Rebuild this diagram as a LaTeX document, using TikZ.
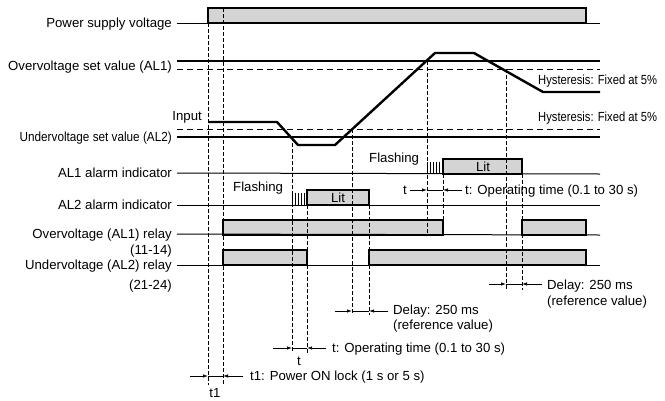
\documentclass[tikz,border=0pt]{standalone}
\usepackage{fontspec}
\setmainfont{Liberation Sans}
\usetikzlibrary{arrows.meta}
\definecolor{boxgray}{RGB}{212,212,212}
\begin{document}
\begin{tikzpicture}[x=1pt,y=-1pt,
  every node/.style={font=\fontsize{13.2}{15}\selectfont, inner sep=0pt, text height=9.4pt, text depth=0pt},
  lab/.style={anchor=east},
  txt/.style={anchor=west},
  base/.style={line width=1pt},
  setline/.style={line width=2.4pt},
  hyst/.style={line width=1pt, dash pattern=on 6pt off 4pt},
  guide/.style={line width=0.7pt, dash pattern=on 3.5pt off 2.5pt},
  sig/.style={draw, line width=1.4pt, fill=boxgray},
  inp/.style={line width=2.4pt, line join=miter},
  dim/.style={line width=0.7pt},
  tip/.style={-{Latex[length=5pt,width=3.4pt]}},
  tick/.style={line width=0.7pt},
]
\useasboundingbox (0,0) rectangle (665,400);

% ---- labels ----
\node[lab] (lpsv) at (172,23) {Power supply voltage};
\node[lab] (lov)  at (172,66) {Overvoltage set value (AL1)};
\node[lab] (linp) at (202,116) {Input};
\node[lab] (luv)  at (172,137) {\scalebox{0.89}[1]{Undervoltage set value (AL2)}};
\node[lab] (la1)  at (172,173) {AL1 alarm indicator};
\node[lab] (la2)  at (172,205) {AL2 alarm indicator};
\node[lab] (lor)  at (172,234) {Overvoltage (AL1) relay};
\node[lab] (lor2) at (172,250) {(11-14)};
\node[lab] (lur)  at (172,265) {Undervoltage (AL2) relay};
\node[lab] (lur2) at (172,285) {(21-24)};

% ---- signal boxes ----
\path[sig] (208,8) rectangle (586,23);
\path[sig] (307,190) rectangle (369,205);
\path[sig] (443,159) rectangle (522,174);
\path[sig] (223,220) rectangle (443,235);
\path[sig] (522,220) rectangle (586,235);
\path[sig] (223,250) rectangle (307,265);
\path[sig] (369,250) rectangle (586,265);

\node (lit2) at (338,198) {Lit};
\node (lit1) at (483,167) {Lit};

% ---- base lines ----
\draw[base] (lpsv.east) ++(5,0) -- (600,23);
\draw[base] (la1.east) ++(5,0) -- (600,174);
\draw[base] (la2.east) ++(5,0) -- (600,205);
\draw[base] (lor.east) ++(5,0) -- (600,235);
\draw[base] (lur.east) ++(5,0) -- (600,265);

% ---- set values ----
\draw[setline] (177,61) -- (600,61);
\draw[hyst] (177,69) -- (600,69);
\draw[hyst] (177,129) -- (600,129);
\draw[setline] (177,137) -- (600,137);

\node[txt] (hy1) at (538,80) {\scalebox{0.85}[1]{Hysteresis: Fixed at 5\%}};
\node[txt] (hy2) at (538,117) {\scalebox{0.85}[1]{Hysteresis: Fixed at 5\%}};

% ---- input ----
\draw[inp] (208,122) -- (277,122) -- (298,145) -- (335,145) -- (435,53) -- (474,53) -- (543,92) -- (600,92);

% ---- flashing ticks ----
\foreach \x in {292,295,298,301,304} \draw[tick] (\x,193) -- (\x,205);
\foreach \x in {427,430,433,436,439} \draw[tick] (\x,162) -- (\x,174);
\node[txt] (fl2) at (233,187) {Flashing};
\node[txt] (fl1) at (369,158) {Flashing};

% ---- guide lines ----
\draw[guide] (208,23) -- (208,385);
\draw[guide] (223,8) -- (223,385);
\draw[guide] (292,137) -- (292,353);
\draw[guide] (307,205) -- (307,353);
\draw[guide] (352,129) -- (352,315);
\draw[guide] (369,205) -- (369,315);
\draw[guide] (427,61) -- (427,235);
\draw[guide] (443,174) -- (443,235);
\draw[guide] (506,69) -- (506,290);
\draw[guide] (522,174) -- (522,290);

% ---- dimension arrows ----
% t1
\coordinate (a1) at (190,376); \coordinate (a1l) at (208,376);
\coordinate (a1r) at (223,376); \coordinate (a1e) at (243,376);
\draw[dim,tip] (a1) -- (a1l);
\draw[dim] (a1l) -- (a1r);
\draw[dim,tip] (a1e) -- (a1r);
\node (t1lab) at (215,393) {t1};
\node[txt] (t1txt) at (250,376) {t1: Power ON lock (1 s or 5 s)};

% t (AL2)
\coordinate (b1) at (273,348); \coordinate (b1l) at (292,348);
\coordinate (b1r) at (307,348); \coordinate (b1e) at (326,348);
\draw[dim,tip] (b1) -- (b1l);
\draw[dim] (b1l) -- (b1r);
\draw[dim,tip] (b1e) -- (b1r);
\node (tlab2) at (299,361) {t};
\node[txt] (ttxt2) at (332,348) {t: Operating time (0.1 to 30 s)};

% delay AL2
\coordinate (c1) at (335,311); \coordinate (c1l) at (352,311);
\coordinate (c1r) at (369,311); \coordinate (c1e) at (388,311);
\draw[dim,tip] (c1) -- (c1l);
\draw[dim] (c1l) -- (c1r);
\draw[dim,tip] (c1e) -- (c1r);
\node[txt] (dl2a) at (393,310) {Delay: 250 ms};
\node[txt] (dl2b) at (393,325) {(reference value)};

% delay AL1
\coordinate (d1) at (489,284); \coordinate (d1l) at (506,284);
\coordinate (d1r) at (522,284); \coordinate (d1e) at (542,284);
\draw[dim,tip] (d1) -- (d1l);
\draw[dim] (d1l) -- (d1r);
\draw[dim,tip] (d1e) -- (d1r);
\node[txt] (dl1a) at (547,285) {Delay: 250 ms};
\node[txt] (dl1b) at (547,301) {(reference value)};

% t (AL1)
\coordinate (e1) at (410,190); \coordinate (e1l) at (427,190);
\coordinate (e1r) at (443,190); \coordinate (e1e) at (462,190);
\draw[dim,tip] (e1) -- (e1l);
\draw[dim] (e1l) -- (e1r);
\draw[dim,tip] (e1e) -- (e1r);
\node (tlab1) at (405,190) {t};
\node[txt] (ttxt1) at (465,190) {t: Operating time (0.1 to 30 s)};
\end{tikzpicture}
\end{document}
